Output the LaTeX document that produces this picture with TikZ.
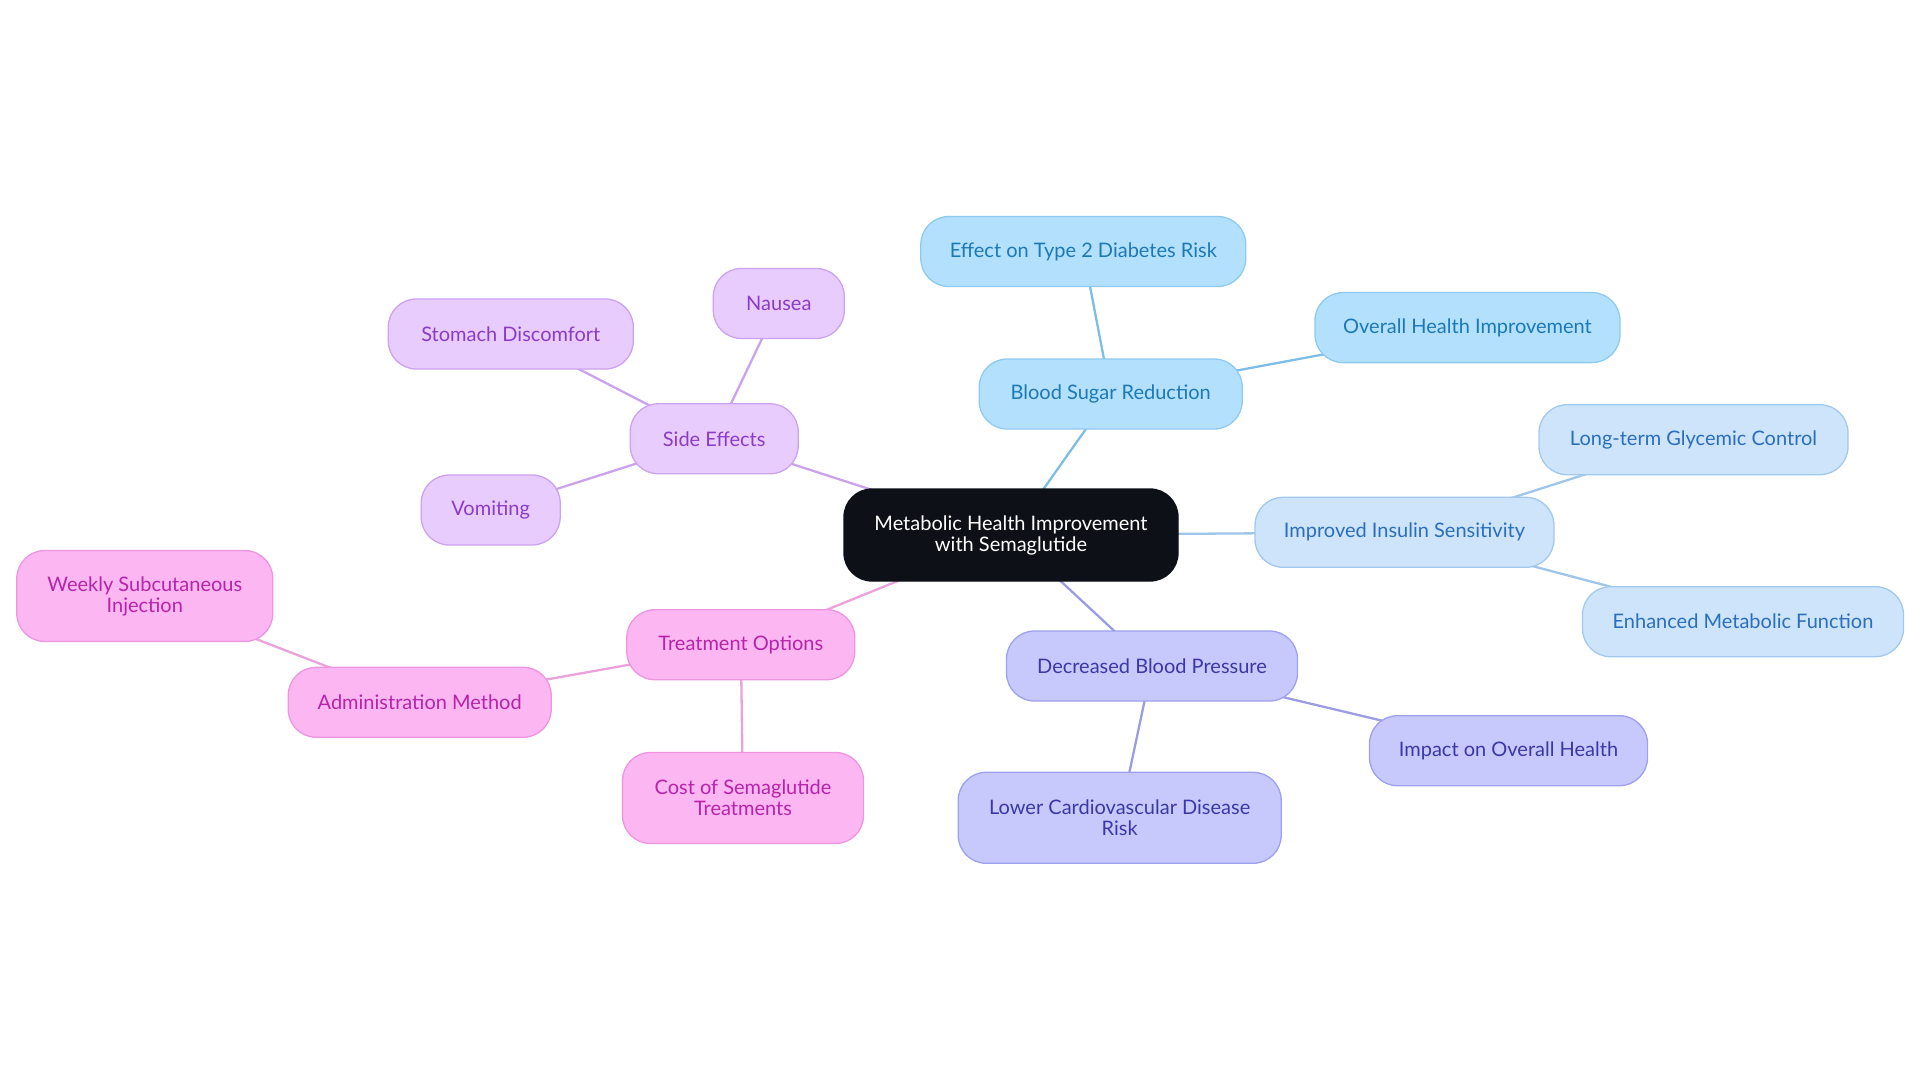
\documentclass[tikz,border=0pt]{standalone}
\usepackage{fontspec}
\setmainfont{Lato}
\usetikzlibrary{backgrounds}
\definecolor{rootfill}{HTML}{0D1117}
\definecolor{sugarfill}{HTML}{B3E0FD}
\definecolor{sugarline}{HTML}{8FCAF1}
\definecolor{sugartext}{HTML}{1C79B6}
\definecolor{sugaredge}{HTML}{7DBDE6}
\definecolor{insfill}{HTML}{CDE4FA}
\definecolor{insline}{HTML}{A3C8EE}
\definecolor{instext}{HTML}{2B6EBB}
\definecolor{insedge}{HTML}{9FC5EA}
\definecolor{presfill}{HTML}{C7C9FC}
\definecolor{presline}{HTML}{9EA1EE}
\definecolor{prestext}{HTML}{3A38A6}
\definecolor{presedge}{HTML}{9B9DE3}
\definecolor{sidefill}{HTML}{E8CCFD}
\definecolor{sideline}{HTML}{CCA3EF}
\definecolor{sidetext}{HTML}{8B3CC6}
\definecolor{sideedge}{HTML}{CBA2EC}
\definecolor{treatfill}{HTML}{FCB6F1}
\definecolor{treatline}{HTML}{EE95DF}
\definecolor{treattext}{HTML}{B524A9}
\definecolor{treatedge}{HTML}{EAA1DC}

\begin{document}
\begin{tikzpicture}[x=1pt,y=-1pt,
    box/.style={rounded corners=28pt,line width=1.3pt,minimum height=70pt,inner xsep=6pt,align=center,font=\fontsize{20}{21}\selectfont},
    tall/.style={minimum height=91pt},
    root/.style={box,fill=rootfill,draw=rootfill,text=white},
    sugar/.style={box,fill=sugarfill,draw=sugarline,text=sugartext},
    insulin/.style={box,fill=insfill,draw=insline,text=instext},
    pressure/.style={box,fill=presfill,draw=presline,text=prestext},
    side/.style={box,fill=sidefill,draw=sideline,text=sidetext},
    treat/.style={box,fill=treatfill,draw=treatline,text=treattext},
    link/.style={line width=2.3pt}]
    \useasboundingbox (0,0) rectangle (1920,1083);
    \node[root, minimum width=334pt, minimum height=92pt] (m) at (1011,535) {Metabolic Health Improvement\\with Semaglutide};
    \node[sugar,    minimum width=263pt] (bs)  at (1110.7,394)   {Blood Sugar Reduction};
    \node[sugar,    minimum width=325pt] (t2)  at (1083.3,251.5) {Effect on Type 2 Diabetes Risk};
    \node[sugar,    minimum width=305pt] (oh)  at (1467.5,327.6) {Overall Health Improvement};
    \node[insulin,  minimum width=299pt] (ins) at (1404.5,532.3) {Improved Insulin Sensitivity};
    \node[insulin,  minimum width=309pt] (lg)  at (1693.5,439.7) {Long-term Glycemic Control};
    \node[insulin,  minimum width=321pt] (em)  at (1743,621.7)   {Enhanced Metabolic Function};
    \node[pressure, minimum width=291pt] (bp)  at (1152,666)     {Decreased Blood Pressure};
    \node[pressure, minimum width=278pt] (io)  at (1508.5,750.7) {Impact on Overall Health};
    \node[pressure, tall, minimum width=323pt] (cv) at (1119.7,817.8) {Lower Cardiovascular Disease\\Risk};
    \node[side,     minimum width=168pt] (se)  at (714.2,438.8)  {Side Effects};
    \node[side,     minimum width=131pt] (na)  at (778.8,303.5)  {Nausea};
    \node[side,     minimum width=245pt] (sd)  at (510.8,334)    {Stomach Discomfort};
    \node[side,     minimum width=139pt] (vo)  at (490.7,510)    {Vomiting};
    \node[treat,    minimum width=228pt] (to)  at (740.8,644.7)  {Treatment Options};
    \node[treat,    minimum width=263pt] (am)  at (419.7,702.3)  {Administration Method};
    \node[treat, tall, minimum width=256pt] (wi) at (144.8,596)  {Weekly Subcutaneous\\Injection};
    \node[treat, tall, minimum width=241pt] (co) at (743,798)    {Cost of Semaglutide\\Treatments};
    \begin{scope}[on background layer]
        \draw[link,sugaredge] (m.center) edge (bs.center) (bs.center) edge (t2.center) (bs.center) edge (oh.center);
        \draw[link,insedge]   (m.center) edge (ins.center) (ins.center) edge (lg.center) (ins.center) edge (em.center);
        \draw[link,presedge]  (m.center) edge (bp.center) (bp.center) edge (io.center) (bp.center) edge (cv.center);
        \draw[link,sideedge]  (m.center) edge (se.center) (se.center) edge (na.center) (se.center) edge (sd.center) (se.center) edge (vo.center);
        \draw[link,treatedge] (m.center) edge (to.center) (to.center) edge (am.center) (am.center) edge (wi.center) (to.center) edge (co.center);
    \end{scope}
\end{tikzpicture}
\end{document}
